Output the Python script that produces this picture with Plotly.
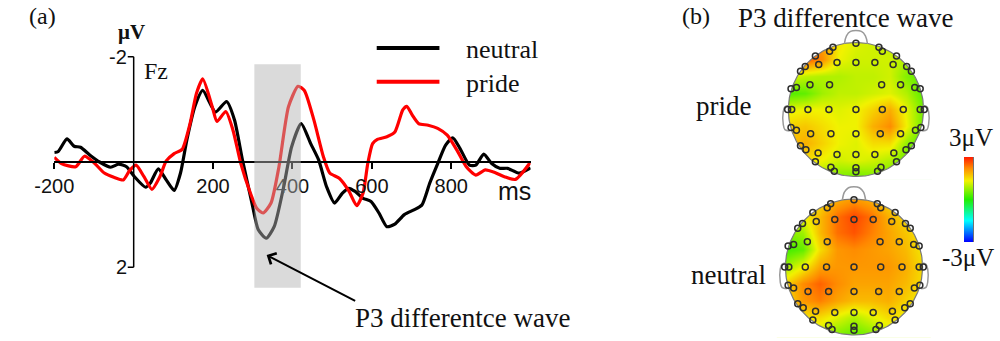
import numpy as np
import plotly.graph_objects as go

W, H = 1000, 341

# ---------------- data: ERP at Fz (ms, µV; negative plotted upward) ----------------
TIME_NEUTRAL = [-200, -190, -168, -150, -134, -110, -86, -58, -38, -18, 2, 30, 42, 62, 82, 102, 118,
                134, 154, 174, 206, 234, 254, 274, 298, 314, 334, 354, 378, 398, 422, 446, 466, 486,
                506, 526, 542, 558, 578, 598, 618, 638, 658, 682, 706, 726, 746, 766, 786, 804, 822,
                846, 862, 882, 902, 922, 942, 971, 1000]
AMP_NEUTRAL = [-0.18, -0.2, -0.44, -0.3, -0.28, -0.13, 0.0, 0.1, 0.04, 0.09, 0.28, 0.48, 0.4, 0.13, 0.34,
               0.54, 0.21, -0.42, -1.05, -1.36, -0.95, -1.15, -0.8, -0.04, 0.78, 1.29, 1.45, 1.23, 0.47,
               -0.29, -0.73, -0.35, -0.04, 0.47, 0.78, 0.59, 0.5, 0.56, 0.69, 0.75, 0.97, 1.23, 1.18,
               1.0, 0.91, 0.82, 0.4, 0.03, -0.32, -0.46, -0.26, 0.06, 0.06, -0.15, 0.03, 0.12, 0.12,
               0.21, 0.11]

TIME_PRIDE = [-200, -182, -146, -124, -102, -74, -50, -26, -10, 6, 26, 46, 66, 82, 102, 122, 142, 158,
              174, 198, 210, 232, 250, 270, 294, 310, 326, 346, 366, 390, 414, 430, 454, 478, 494, 518,
              542, 562, 578, 590, 602, 614, 638, 658, 678, 688, 702, 718, 742, 766, 790, 814, 838, 862,
              886, 910, 934, 962, 1000]
AMP_PRIDE = [-0.09, 0.03, 0.09, -0.11, 0.0, 0.21, 0.29, 0.34, 0.16, 0.06, 0.28, 0.52, 0.28, -0.02,
             -0.16, -0.24, -0.73, -1.3, -1.58, -1.05, -0.77, -0.96, -0.61, 0.03, 0.59, 0.88, 0.97, 0.78,
             0.09, -1.05, -1.44, -1.36, -0.8, -0.1, 0.21, 0.31, 0.55, 0.83, 0.59, 0.02, -0.35, -0.43,
             -0.48, -0.57, -0.99, -1.06, -0.89, -0.73, -0.7, -0.64, -0.51, -0.23, 0.09, 0.25, 0.15,
             0.2, 0.28, 0.33, 0.0]

X_TICKS = [-200, 200, 400, 600, 800]
X_TICK_LABELS = ["-200", "200", "400", "600", "800"]
Y_TICKS = [-2, 2]
Y_TICK_LABELS = ["-2", "2"]
P3_WINDOW_MS = [304, 421]
P3_WINDOW_UV = [-1.86, 2.39]

# ---------------- data: scalp topographies (µV) ----------------
GRID_X = [-1.0, -0.75, -0.5, -0.25, 0.0, 0.25, 0.5, 0.75, 1.0]
GRID_Y = [1.0, 0.75, 0.5, 0.25, 0.0, -0.25, -0.5, -0.75, -1.0]   # rows listed top -> bottom
PRIDE_MAP = [
    [2.6, 2.6, 2.0, 1.4, 1.2, 1.1, 1.0, 1.0, 1.0],
    [2.6, 2.6, 2.2, 1.3, 1.1, 1.1, 1.1, 0.9, 0.8],
    [1.2, 1.0, 0.9, 0.9, 1.0, 1.0, 1.1, 0.6, 0.3],
    [0.3, 0.4, 0.8, 1.0, 1.0, 1.1, 1.2, 0.9, 0.3],
    [1.2, 1.3, 1.3, 1.2, 1.3, 1.6, 1.9, 1.2, 0.5],
    [1.6, 1.7, 1.5, 1.3, 1.3, 1.9, 2.2, 1.3, 0.4],
    [1.8, 1.9, 1.6, 1.3, 1.2, 1.5, 1.5, 0.7, 0.2],
    [1.5, 1.5, 1.3, 1.1, 1.2, 1.1, 0.9, 0.4, 0.2],
    [1.0, 1.0, 0.8, 0.6, 0.5, 0.6, 0.5, 0.3, 0.3],
]
NEUTRAL_MAP = [
    [1.3, 1.3, 1.5, 1.9, 2.1, 1.9, 1.5, 1.3, 1.3],
    [1.3, 1.3, 1.8, 2.4, 2.7, 2.4, 1.9, 1.5, 1.4],
    [0.6, 0.8, 1.8, 2.4, 2.6, 2.3, 2.0, 1.7, 1.4],
    [0.2, 0.4, 1.5, 2.1, 2.2, 2.1, 2.0, 1.8, 1.4],
    [0.8, 1.3, 2.0, 2.1, 2.1, 2.1, 2.1, 1.9, 1.5],
    [1.6, 2.2, 2.5, 2.2, 2.0, 2.0, 2.0, 1.8, 1.5],
    [1.5, 2.1, 2.3, 2.0, 1.8, 1.8, 1.9, 1.6, 1.3],
    [1.3, 1.4, 1.5, 1.2, 0.9, 1.2, 1.5, 1.3, 1.2],
    [1.2, 1.2, 1.0, 0.6, 0.4, 0.6, 1.0, 1.1, 1.1],
]
Z_MIN, Z_MAX = -3, 3

ELEC_X = [0, -0.34, 0.34, -0.39, 0.39, -0.60, 0.60,
          -0.55, -0.28, 0, 0.28, 0.55, -0.75, 0.75, -0.82, 0.82,
          -0.96, -0.88, -0.68, -0.39, 0.38, 0.66, 0.87, 0.95,
          -1.01, -0.95, -0.71, -0.40, 0, 0.39, 0.70, 0.95, 1.01,
          -0.96, -0.88, -0.67, -0.37, 0, 0.36, 0.66, 0.88, 0.96,
          -0.82, -0.74, -0.56, -0.28, 0, 0.28, 0.56, 0.74, 0.82,
          -0.60, -0.37, -0.32, 0, 0, 0.32, 0.37, 0.60]
ELEC_Y = [0.99, 0.93, 0.93, 0.87, 0.87, 0.80, 0.80,
          0.67, 0.70, 0.70, 0.70, 0.67, 0.64, 0.64, 0.57, 0.57,
          0.31, 0.33, 0.37, 0.37, 0.37, 0.37, 0.33, 0.31,
          0, 0, 0, 0, 0, 0, 0, 0, 0,
          -0.27, -0.31, -0.36, -0.36, -0.36, -0.36, -0.36, -0.31, -0.27,
          -0.54, -0.60, -0.65, -0.67, -0.67, -0.67, -0.65, -0.60, -0.54,
          -0.78, -0.86, -0.92, -0.87, -0.93, -0.92, -0.86, -0.78]

COLORSCALE = [[0.0, "#0000ff"], [0.25, "#00ffff"], [0.5, "#22ee00"],
              [0.72, "#f2f200"], [0.87, "#ff8a00"], [1.0, "#ff1a00"]]

SERIF = "Liberation Serif, Times New Roman, serif"
SANS = "Liberation Sans, Arial, sans-serif"

# panel (a) horizontal placement: pixel of 0 ms and pixels per ms
X0_PX, PX_PER_MS = 116.0, 0.405


def px(x):
    return x / W


def py(y):
    return 1 - y / H


fig = go.Figure()

# ---------------- panel (a) ----------------
fig.add_trace(go.Scatter(x=TIME_NEUTRAL, y=AMP_NEUTRAL, mode="lines", xaxis="x", yaxis="y",
                         line=dict(color="#000000", width=3.2, shape="spline", smoothing=0.6),
                         showlegend=False, hoverinfo="skip"))
fig.add_trace(go.Scatter(x=TIME_PRIDE, y=AMP_PRIDE, mode="lines", xaxis="x", yaxis="y",
                         line=dict(color="#ff0000", width=3.2, shape="spline", smoothing=0.6),
                         showlegend=False, hoverinfo="skip"))

shapes = []
shapes.append(dict(type="line", xref="x", yref="y", x0=0, x1=0, y0=-2, y1=2,
                   line=dict(color="black", width=1.5)))
for v in Y_TICKS:
    shapes.append(dict(type="line", xref="x", yref="y", x0=-15, x1=0, y0=v, y1=v,
                       line=dict(color="black", width=1.5)))
shapes.append(dict(type="rect", xref="x", yref="y", x0=P3_WINDOW_MS[0], x1=P3_WINDOW_MS[1],
                   y0=P3_WINDOW_UV[0], y1=P3_WINDOW_UV[1], fillcolor="rgba(177,177,177,0.48)",
                   line=dict(width=0), layer="above"))
shapes.append(dict(type="line", xref="paper", yref="paper", x0=px(364), x1=px(428), y0=py(48), y1=py(48),
                   line=dict(color="black", width=4)))
shapes.append(dict(type="line", xref="paper", yref="paper", x0=px(364), x1=px(428), y0=py(81.7),
                   y1=py(81.7), line=dict(color="#ff0000", width=4)))
shapes.append(dict(type="line", xref="paper", yref="paper", x0=px(972), x1=px(972), y0=py(157),
                   y1=py(242), line=dict(color="black", width=2)))

annotations = []


def txt(text, x, y, size, family=SERIF, xanchor="center", bold=False, color="#111111"):
    annotations.append(dict(text=("<b>%s</b>" % text) if bold else text, xref="paper", yref="paper",
                            x=px(x), y=py(y), xanchor=xanchor, yanchor="middle", showarrow=False,
                            font=dict(family=family, size=size, color=color)))


txt("(a)", 23, 16, 24)
txt("\u03bcV", X0_PX - 2, 32, 21, bold=True)
txt("Fz", X0_PX + 23, 71, 24)
for v, lab in zip(Y_TICKS, Y_TICK_LABELS):
    annotations.append(dict(text=lab, xref="paper", yref="y", x=px(X0_PX - 5), y=v, xanchor="right",
                            yanchor="middle", showarrow=False,
                            font=dict(family=SANS, size=20, color="#111111")))
txt("ms", 505, 191, 25, family=SANS)
txt("neutral", 453, 50, 26, xanchor="left")
txt("pride", 453, 83, 26, xanchor="left")
txt("P3 differentce wave", 340, 318, 27, xanchor="left")
annotations.append(dict(text="", xref="paper", yref="paper", x=px(251.7), y=py(255), ax=90, ay=46.7,
                        showarrow=True, arrowhead=4, arrowsize=1.2, arrowwidth=2, arrowcolor="black",
                        standoff=0))

# ---------------- panel (b) ----------------
txt("(b)", 690, 16, 24)
txt("P3 differentce wave", 842, 18, 27)
txt("pride", 718, 106, 27)
txt("neutral", 723, 275, 27)
txt("3\u03bcV", 970, 137, 25)
txt("-3\u03bcV", 967, 257, 25)

theta = np.linspace(0, 2 * np.pi, 181)
circ_x = np.cos(theta)
circ_y = np.sin(theta)
mask_x = np.concatenate([[1.6, 1.6, -1.6, -1.6, 1.6, 1.6], circ_x[::-1], [1.6]])
mask_y = np.concatenate([[0, 1.6, 1.6, -1.6, -1.6, 0], circ_y[::-1], [0]])
nose_x = [-0.17, -0.14, -0.08, 0, 0.08, 0.14, 0.17]
nose_y = [0.985, 1.10, 1.165, 1.18, 1.165, 1.10, 0.985]
ear_x = [-0.99, -1.05, -1.075, -1.075, -1.05, -0.98]
ear_y = [0.06, 0.04, -0.03, -0.22, -0.3, -0.32]

for k, (zmap, xa, ya) in enumerate([(PRIDE_MAP, "x2", "y2"), (NEUTRAL_MAP, "x3", "y3")]):
    hm = dict(x=GRID_X, y=GRID_Y[::-1], z=zmap[::-1], zsmooth="best", colorscale=COLORSCALE,
              zmin=Z_MIN, zmax=Z_MAX, xaxis=xa, yaxis=ya, hoverinfo="skip", showscale=(k == 1))
    if k == 1:
        hm["colorbar"] = dict(x=px(963), xanchor="left", xpad=0, ypad=0, y=py(199.5), yanchor="middle",
                              len=85 / H, lenmode="fraction", thickness=9, thicknessmode="pixels",
                              outlinewidth=0, borderwidth=0, showticklabels=False, ticks="")
    fig.add_trace(go.Heatmap(**hm))
    fig.add_trace(go.Scatter(x=mask_x, y=mask_y, mode="lines", fill="toself", fillcolor="white",
                             line=dict(width=0, color="white"), xaxis=xa, yaxis=ya,
                             showlegend=False, hoverinfo="skip"))
    fig.add_trace(go.Scatter(x=circ_x, y=circ_y, mode="lines", line=dict(color="#7a7a7a", width=1.2),
                             xaxis=xa, yaxis=ya, showlegend=False, hoverinfo="skip"))
    fig.add_trace(go.Scatter(x=nose_x, y=nose_y, mode="lines",
                             line=dict(color="#9a9a9a", width=1.5, shape="spline"),
                             xaxis=xa, yaxis=ya, showlegend=False, hoverinfo="skip"))
    for sgn in (1, -1):
        fig.add_trace(go.Scatter(x=[sgn * v for v in ear_x], y=ear_y, mode="lines",
                                 line=dict(color="#9a9a9a", width=1.5, shape="spline"),
                                 xaxis=xa, yaxis=ya, showlegend=False, hoverinfo="skip"))
    fig.add_trace(go.Scatter(x=ELEC_X, y=ELEC_Y, mode="markers", xaxis=xa, yaxis=ya,
                             marker=dict(symbol="circle-open", size=6, color="#2e2e2e",
                                         line=dict(width=1.5, color="#2e2e2e")),
                             showlegend=False, hoverinfo="skip"))

x_lo = X0_PX - 200 * PX_PER_MS
x_hi = X0_PX + 1000 * PX_PER_MS
fig.update_layout(
    width=W, height=H, margin=dict(l=0, r=0, t=0, b=0),
    paper_bgcolor="white", plot_bgcolor="white", showlegend=False,
    shapes=shapes, annotations=annotations,
    xaxis=dict(domain=[px(x_lo), px(x_hi)], range=[-200, 1000], anchor="free", position=py(162),
               showline=True, linecolor="black", linewidth=1.5, ticks="outside", ticklen=6, tickwidth=1.5,
               tickcolor="black", tickvals=X_TICKS, ticktext=X_TICK_LABELS, showgrid=False, zeroline=False,
               tickfont=dict(family=SANS, size=20, color="#111111"), fixedrange=True),
    yaxis=dict(domain=[py(300), py(25)], range=[(300 - 162) / 52.6, (25 - 162) / 52.6], visible=False,
               fixedrange=True),
    xaxis2=dict(domain=[px(853 - 82.8), px(853 + 82.8)], range=[-1.2, 1.2], visible=False, anchor="y2"),
    yaxis2=dict(domain=[py(179.2), py(29.1)], range=[-1.04, 1.2], visible=False, anchor="x2"),
    xaxis3=dict(domain=[px(851 - 84), px(851 + 84)], range=[-1.2, 1.2], visible=False, anchor="y3"),
    yaxis3=dict(domain=[py(337.7), py(185.4)], range=[-1.04, 1.2], visible=False, anchor="x3"),
)

fig.write_html("out.html", config={"displayModeBar": False})
